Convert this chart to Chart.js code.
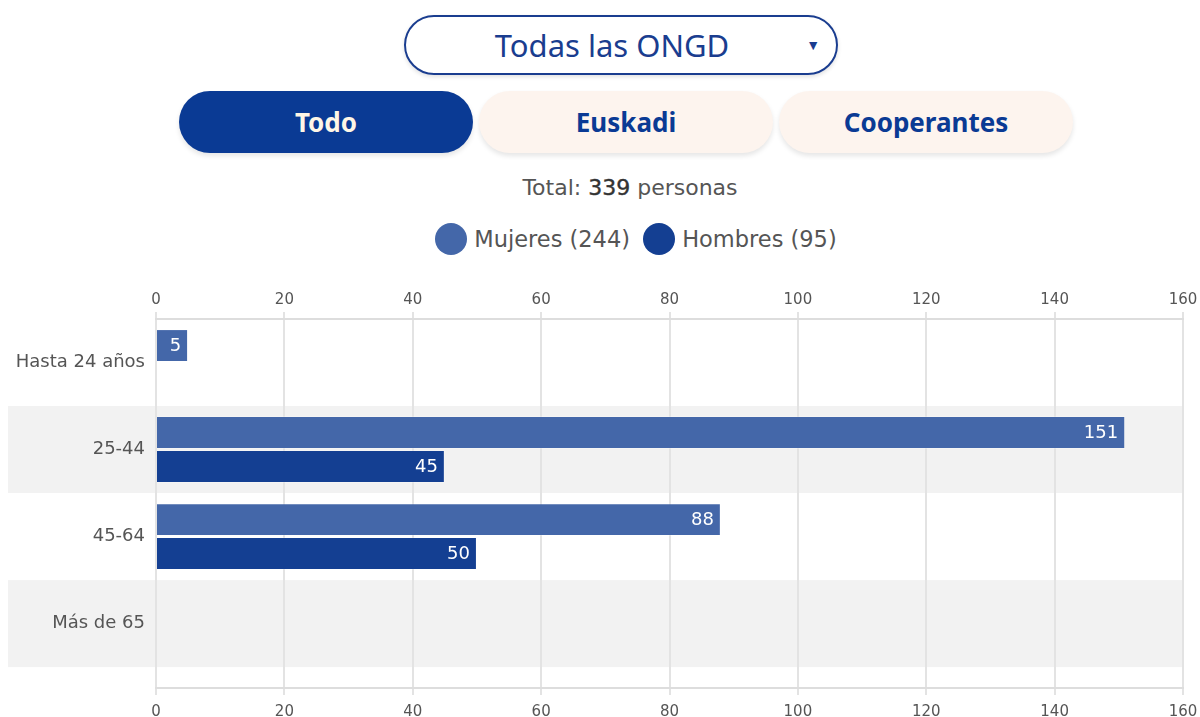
<!DOCTYPE html>
<html>
<head>
<meta charset="utf-8">
<script src="https://cdn.jsdelivr.net/npm/chart.js@4/dist/chart.umd.min.js"></script>
<style>
  html, body { margin: 0; padding: 0; background: #fff; width: 1200px; height: 717px; overflow: hidden; font-family: "DejaVu Sans", sans-serif; }
  .dd { position: absolute; left: 404px; top: 15px; width: 430px; height: 56px; border: 2px solid #1a3d8f; border-radius: 30px; box-shadow: 0 2px 4px rgba(0,0,0,0.12); color: #1a3d8f; font-family: "Noto Sans", sans-serif; font-size: 31px; line-height: 56px; }
  .dd .t { position: absolute; left: 0; width: 412px; text-align: center; top: 0; }
  .dd .arr { position: absolute; right: 16px; top: 0; font-size: 14px; }
  .btn { position: absolute; top: 91px; width: 294px; height: 62px; border-radius: 31px; line-height: 62px; text-align: center; font-family: "Noto Sans", sans-serif; font-size: 26px; font-weight: 700; box-shadow: 0 3px 5px rgba(0,0,0,0.10); }
  .b1 { left: 179px; background: #0a3a94; color: #fff6e6; }
  .b2 { left: 479px; background: #fdf4ee; color: #0a3a94; }
  .b3 { left: 779px; background: #fdf4ee; color: #0a3a94; }
  .total { position: absolute; top: 175px; left: 0; width: 1260px; text-align: center; font-size: 22px; color: #555; }
  .total b { font-weight: 400; color: #333; -webkit-text-stroke: 0.4px #333; }
  .legend { position: absolute; top: 223px; left: 0; width: 1272px; text-align: center; font-size: 22.5px; color: #555; }
  .legend span.item { display: inline-flex; align-items: center; margin: 0 3px; }
  .legend i { display: inline-block; width: 32px; height: 32px; border-radius: 50%; margin-right: 7px; }
  #wrap { position: absolute; left: 0; top: 270px; width: 1200px; height: 459px; }
</style>
</head>
<body>
<div class="dd"><span class="t">Todas las ONGD</span><span class="arr">▼</span></div>
<div class="btn b1">Todo</div>
<div class="btn b2">Euskadi</div>
<div class="btn b3">Cooperantes</div>
<div class="total" id="total"></div>
<div class="legend" id="legend"></div>
<div id="wrap"><canvas id="c"></canvas></div>
<script>
const categories = ["Hasta 24 años", "25-44", "45-64", "Más de 65"];
const seriesNames = ["Mujeres", "Hombres"];
const mujeres = [5, 151, 88, 0];
const hombres = [0, 45, 50, 0];
const xTicks = [0, 20, 40, 60, 80, 100, 120, 140, 160];
const colors = ["#4467a9", "#143f92"];

const sum = a => a.reduce((s, v) => s + v, 0);
document.getElementById('total').innerHTML = 'Total: <b>' + (sum(mujeres) + sum(hombres)) + '</b> personas';
const series = [mujeres, hombres];
document.getElementById('legend').innerHTML = seriesNames.map((n, i) =>
  '<span class="item"><i style="background:' + colors[i] + '"></i>' + n + ' (' + sum(series[i]) + ')</span>').join(' ');

const bandsPlugin = {
  id: 'bands',
  beforeDraw(chart) {
    const { ctx, chartArea, scales } = chart;
    const y = scales.y;
    ctx.save();
    ctx.fillStyle = '#f2f2f2';
    categories.forEach((c, i) => {
      if (i % 2 === 1) {
        const a = y.getPixelForValue(i - 0.5), b = y.getPixelForValue(i + 0.5);
        ctx.fillRect(8, Math.min(a, b), chartArea.right - 8, Math.abs(b - a));
      }
    });
    ctx.restore();
  }
};

const labelPlugin = {
  id: 'vals',
  afterDatasetsDraw(chart) {
    const ctx = chart.ctx;
    ctx.save();
    ctx.font = '18px "DejaVu Sans"';
    ctx.fillStyle = '#ffffff';
    ctx.textAlign = 'right';
    ctx.textBaseline = 'middle';
    chart.data.datasets.forEach((ds, di) => {
      chart.getDatasetMeta(di).data.forEach((bar, i) => {
        const v = ds.data[i].x;
        if (v > 0) ctx.fillText(String(v), bar.x - 7, bar.y + 1);
      });
    });
    ctx.restore();
  }
};

const xAxisCommon = {
  type: 'linear', min: xTicks[0], max: xTicks[xTicks.length - 1],
  afterBuildTicks: s => { s.ticks = xTicks.map(v => ({ value: v })); },
  afterFit: s => { s.paddingLeft = 0; s.paddingRight = 0; },
  grid: { color: '#e3e3e3', lineWidth: 2, tickLength: 7 },
  border: { color: '#dddddd', width: 2 },
  ticks: { color: '#555', font: { size: 15, family: '"DejaVu Sans"' }, maxRotation: 0 }
};

new Chart(document.getElementById('c'), {
  type: 'bar',
  data: {
    datasets: seriesNames.map((n, si) => ({
      label: n,
      data: series[si].map((v, i) => ({ x: v, y: i })),
      backgroundColor: colors[si],
      borderColor: 'rgba(255,255,255,0.25)',
      borderWidth: 1,
      categoryPercentage: 0.78,
      barPercentage: 0.97
    }))
  },
  options: {
    indexAxis: 'y',
    responsive: true,
    maintainAspectRatio: false,
    animation: false,
    layout: { padding: { left: 0, right: 17, top: 18, bottom: 0 } },
    plugins: { legend: { display: false }, tooltip: { enabled: false } },
    scales: {
      x: Object.assign({}, xAxisCommon, { position: 'top', ticks: Object.assign({}, xAxisCommon.ticks, { padding: 3 }) }),
      x2: Object.assign({}, xAxisCommon, { position: 'bottom', ticks: Object.assign({}, xAxisCommon.ticks, { padding: 8 }) }),
      y: {
        type: 'linear', reverse: true, offset: false, min: -0.5, max: categories.length - 0.26,
        afterBuildTicks: s => { s.ticks = categories.map((c, i) => ({ value: i })); },
        afterFit: s => { s.width = 156; },
        grid: { display: false, offset: false, drawTicks: false },
        border: { display: false },
        ticks: { color: '#555', font: { size: 18, family: '"DejaVu Sans"' }, padding: 11,
          callback: v => categories[v] }
      }
    }
  },
  plugins: [bandsPlugin, labelPlugin]
});
</script>
</body>
</html>
